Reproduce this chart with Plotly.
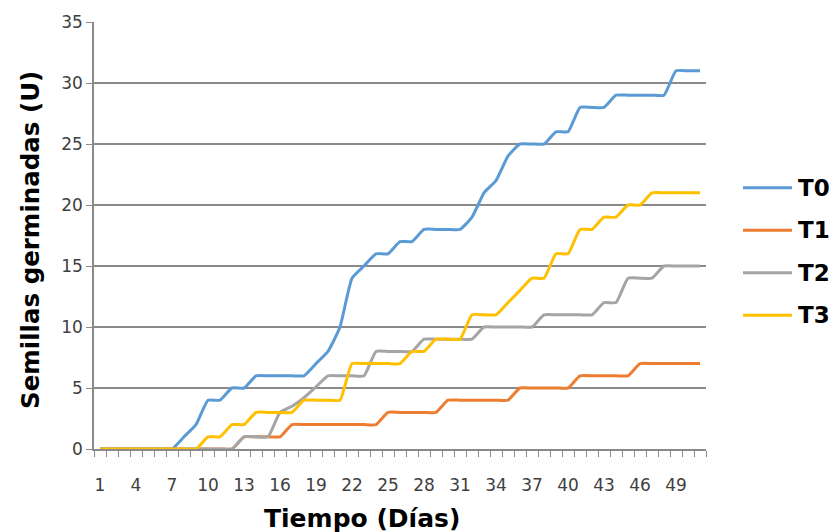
import plotly.graph_objects as go

# ---- data ----
days = list(range(1, 52))
tick_days = [1, 4, 7, 10, 13, 16, 19, 22, 25, 28, 31, 34, 37, 40, 43, 46, 49]
series_names = ["T0", "T1", "T2", "T3"]
t0 = [0, 0, 0, 0, 0, 0, 0, 1, 2, 4, 4, 5, 5, 6, 6, 6, 6, 6, 7, 8, 10, 14, 15, 16, 16, 17,
      17, 18, 18, 18, 18, 19, 21, 22, 24, 25, 25, 25, 26, 26, 28, 28, 28, 29, 29, 29, 29,
      29, 31, 31, 31]
t1 = [0, 0, 0, 0, 0, 0, 0, 0, 0, 0, 0, 0, 1, 1, 1, 1, 2, 2, 2, 2, 2, 2, 2, 2, 3, 3,
      3, 3, 3, 4, 4, 4, 4, 4, 4, 5, 5, 5, 5, 5, 6, 6, 6, 6, 6, 7, 7, 7, 7, 7, 7]
t2 = [0, 0, 0, 0, 0, 0, 0, 0, 0, 0, 0, 0, 1, 1, 1, 3, 3.5, 4.2, 5.1, 6, 6, 6, 6, 8, 8, 8,
      8, 9, 9, 9, 9, 9, 10, 10, 10, 10, 10, 11, 11, 11, 11, 11, 12, 12, 14, 14, 14, 15, 15,
      15, 15]
t3 = [0, 0, 0, 0, 0, 0, 0, 0, 0, 1, 1, 2, 2, 3, 3, 3, 3, 4, 4, 4, 4, 7, 7, 7, 7, 7,
      8, 8, 9, 9, 9, 11, 11, 11, 12, 13, 14, 14, 16, 16, 18, 18, 19, 19, 20, 20, 21, 21,
      21, 21, 21]
values = [t0, t1, t2, t3]
colors = ["#5B9BD5", "#ED7D31", "#A5A5A5", "#FFC000"]

# ---- layout constants (pixels) ----
W, H = 835, 532
L, R, T, B = 94, 129, 22, 83
PW, PH = W - L - R, H - T - B
GRID = "#8a8a8a"


def px_x(px):
    return (px - L) / PW


def px_y(py):
    return (H - B - py) / PH


fig = go.Figure()
for name, vals, col in zip(series_names, values, colors):
    fig.add_trace(go.Scatter(
        x=days, y=vals, mode="lines", name=name, showlegend=False,
        line=dict(color=col, width=3, shape="spline", smoothing=0.45),
        hoverinfo="skip",
    ))

fig.update_layout(
    width=W, height=H,
    margin=dict(l=L, r=R, t=T, b=B, pad=0),
    paper_bgcolor="white", plot_bgcolor="white",
    font=dict(family="DejaVu Sans", color="#404040"),
)

fig.update_xaxes(
    range=[0.5, 51.5],
    tickmode="array", tickvals=tick_days, ticktext=[str(d) for d in tick_days],
    ticks="", ticklabelstandoff=20,
    tickfont=dict(size=17, family="DejaVu Sans", color="#404040"),
    showgrid=False, zeroline=False,
    showline=True, linecolor=GRID, linewidth=1.5,
    minor=dict(tickmode="array", tickvals=[d - 0.5 for d in days] + [51.5],
               ticks="outside", ticklen=6, tickcolor=GRID, tickwidth=1.2, showgrid=False),
)
fig.update_yaxes(
    range=[0, 35], tickmode="linear", tick0=0, dtick=5,
    ticks="outside", ticklen=6, tickcolor=GRID, tickwidth=1.2,
    tickfont=dict(size=17, family="DejaVu Sans", color="#404040"),
    showgrid=True, gridcolor=GRID, gridwidth=1.5,
    zeroline=False, showline=True, linecolor=GRID, linewidth=1.5,
)

annotations = [
    dict(text="<b>Tiempo (Días)</b>", xref="paper", yref="paper",
         x=px_x(362), y=px_y(518), xanchor="center", yanchor="middle",
         showarrow=False, font=dict(size=25, family="DejaVu Sans", color="#000000")),
    dict(text="<b>Semillas germinadas (U)</b>", xref="paper", yref="paper",
         x=px_x(30), y=px_y(240), xanchor="center", yanchor="middle", textangle=-90,
         showarrow=False, font=dict(size=24.5, family="DejaVu Sans", color="#000000")),
]
shapes = []
leg_y = [187.7, 230.2, 272.7, 315.2]
for name, col, ly in zip(series_names, colors, leg_y):
    shapes.append(dict(type="line", xref="paper", yref="paper",
                       x0=px_x(743), x1=px_x(792), y0=px_y(ly), y1=px_y(ly),
                       line=dict(color=col, width=3)))
    annotations.append(dict(text="<b>%s</b>" % name, xref="paper", yref="paper",
                            x=px_x(796), y=px_y(ly), xanchor="left", yanchor="middle",
                            showarrow=False,
                            font=dict(size=23, family="DejaVu Sans", color="#000000")))
fig.update_layout(annotations=annotations, shapes=shapes)

fig.write_html("out.html")
